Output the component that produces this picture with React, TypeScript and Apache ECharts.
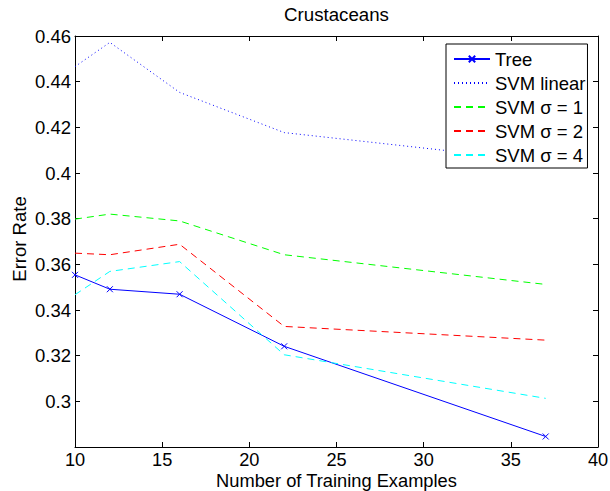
import React, { useEffect, useRef } from "react";
import * as echarts from "echarts";

const xValues = [10, 12, 16, 22, 37];
const tree = [0.3554, 0.3491, 0.3469, 0.3241, 0.2846];
const svmLinear = [0.4466, 0.4572, 0.4353, 0.4177, 0.405];
const svmSigma1 = [0.3798, 0.382, 0.379, 0.3642, 0.3512];
const svmSigma2 = [0.3649, 0.3642, 0.3688, 0.3328, 0.3268];
const svmSigma4 = [0.3467, 0.3569, 0.3612, 0.3204, 0.3013];
const seriesNames = ["Tree", "SVM linear", "SVM σ = 1", "SVM σ = 2", "SVM σ = 4"];
const titleText = "Crustaceans";
const xTitle = "Number of Training Examples";
const yTitle = "Error Rate";

const FONT = "'Liberation Sans', Arial, Helvetica, sans-serif";

function pairs(ys: number[]) {
  return xValues.map((x, i) => [x, ys[i]]);
}

export default function App() {
  const ref = useRef<HTMLDivElement>(null);
  useEffect(() => {
    if (!ref.current) return;
    const chart = echarts.init(ref.current, undefined, { renderer: "svg" });
    const axisCommon = {
      axisLine: { show: true, onZero: false, lineStyle: { color: "#000", width: 1 } },
      axisTick: { show: true, inside: true, length: 5, lineStyle: { color: "#000" } },
      splitLine: { show: false },
    };
    const lineSeries = (name: string, data: number[], color: string, type: any, extra: any = {}) => ({
      name,
      type: "line",
      data: pairs(data),
      symbol: "none",
      lineStyle: { color, width: 1, type },
      itemStyle: { color, opacity: 0 },
      ...extra,
    });
    const textStyle = (text: string, size: number) => ({
      text,
      fill: "#000",
      font: `${size}px ${FONT}`,
      fontSize: size,
      fontFamily: FONT,
      lineHeight: 14,
      align: "center",
      verticalAlign: "middle",
      textAlign: "center",
      textVerticalAlign: "middle",
    });
    chart.setOption({
      animation: false,
      textStyle: { fontFamily: FONT },
      graphic: [
        { type: "text", x: 336.5, y: 14.5, style: textStyle(titleText, 18.7) },
        { type: "text", x: 336.5, y: 480.3, style: textStyle(xTitle, 18.3) },
        { type: "text", x: 19.3, y: 239, rotation: Math.PI / 2, style: textStyle(yTitle, 18.5) },
      ],
      grid: { left: 75, right: 12, top: 36, bottom: 44, containLabel: false, outerBoundsMode: "none" },
      legend: {
        orient: "vertical",
        left: 446,
        top: 44,
        data: seriesNames,
        itemWidth: 36,
        itemHeight: 8,
        itemGap: 4,
        padding: [5, 2, 3, 7],
        borderColor: "#000",
        borderWidth: 1,
        backgroundColor: "#fff",
        textStyle: { fontFamily: FONT, fontSize: 18.5, color: "#000", lineHeight: 20 },
      },
      xAxis: [
        {
          type: "value",
          min: 10,
          max: 40,
          interval: 5,
          axisLabel: { fontFamily: FONT, fontSize: 18.2, lineHeight: 14, color: "#000", margin: 5.5 },
          ...axisCommon,
        },
        {
          type: "value",
          position: "top",
          min: 10,
          max: 40,
          interval: 5,
          axisLabel: { show: false },
          ...axisCommon,
        },
      ],
      yAxis: [
        {
          type: "value",
          min: 0.28,
          max: 0.46,
          interval: 0.02,
          axisLabel: {
            fontFamily: FONT,
            fontSize: 18.5,
            color: "#000",
            margin: 4,
            formatter: (v: number) => (v < 0.285 ? "" : String(+v.toFixed(2))),
          },
          ...axisCommon,
        },
        {
          type: "value",
          position: "right",
          min: 0.28,
          max: 0.46,
          interval: 0.02,
          axisLabel: { show: false },
          ...axisCommon,
        },
      ],
      series: [
        lineSeries(seriesNames[0], tree, "#0000ff", "solid", {
          symbol: "path://M0,0L10,10M10,0L0,10",
          symbolSize: 6,
          itemStyle: { color: "none", borderColor: "#0000ff", borderWidth: 1 },
        }),
        lineSeries(seriesNames[1], svmLinear, "#0000ff", [1, 3]),
        lineSeries(seriesNames[2], svmSigma1, "#00ff00", [7, 5]),
        lineSeries(seriesNames[3], svmSigma2, "#ff0000", [7, 5]),
        lineSeries(seriesNames[4], svmSigma4, "#00ffff", [7, 5]),
      ],
    });
    return () => chart.dispose();
  }, []);
  return (
    <div
      ref={ref}
      style={{ position: "fixed", left: 0, top: 0, width: 610, height: 491, background: "#fff" }}
    />
  );
}
